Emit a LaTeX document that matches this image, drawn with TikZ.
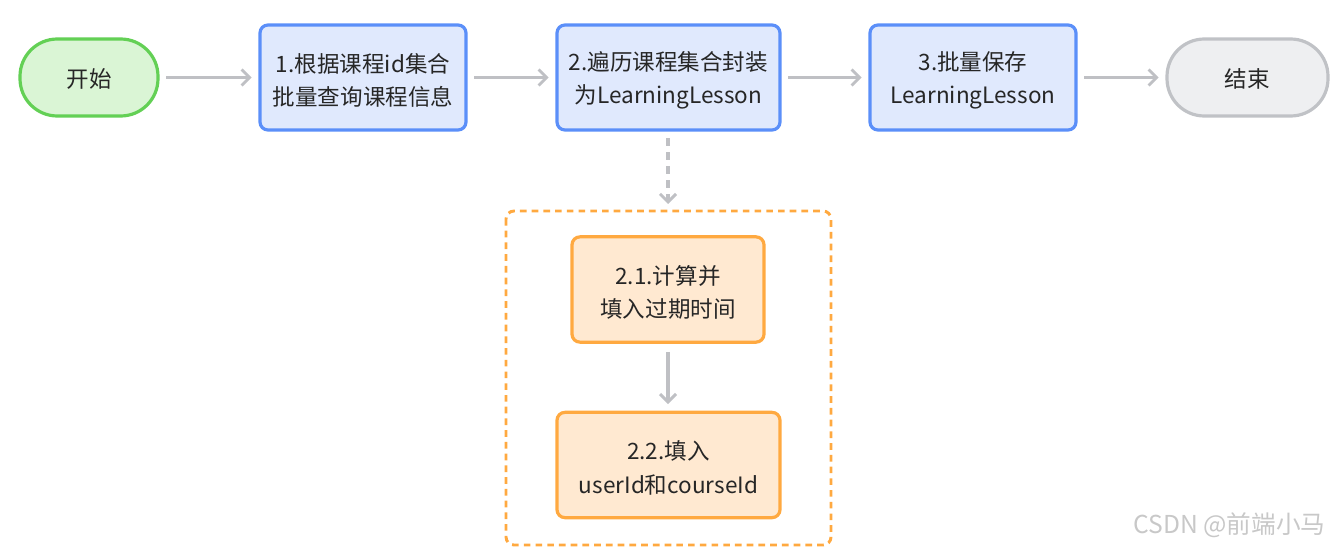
\documentclass[tikz,border=0pt]{standalone}
\usepackage{fontspec}
\setmainfont{Noto Sans CJK SC}
\usetikzlibrary{arrows.meta}

\definecolor{startline}{RGB}{99,208,85}
\definecolor{startfill}{RGB}{218,245,213}
\definecolor{stepline}{RGB}{91,143,249}
\definecolor{stepfill}{RGB}{224,233,253}
\definecolor{subline}{RGB}{255,169,64}
\definecolor{subfill}{RGB}{255,233,209}
\definecolor{endline}{RGB}{192,194,198}
\definecolor{endfill}{RGB}{238,239,241}
\definecolor{flowline}{RGB}{191,192,196}
\definecolor{marktext}{RGB}{200,200,200}

% lower one line of box text a little, keeping its size
\newcommand{\lowline}[2][2.25pt]{\raisebox{-#1}[\height][\depth]{#2}}

\tikzset{every picture/.style={line width=0.75pt}}
\tikzset{
	boxtext/.style={font=\fontsize{16.9}{25}\selectfont, text=black!85, align=center, inner sep=0pt},
	terminal/.style={boxtext, line width=2.4pt, rounded corners=28pt, minimum height=57.75pt},
	stepbox/.style={boxtext, draw=stepline, fill=stepfill, line width=2.4pt, rounded corners=6pt, minimum height=78.75pt},
	subbox/.style={boxtext, draw=subline, fill=subfill, line width=2.4pt, rounded corners=6pt, minimum height=79pt},
	flow/.style={draw=flowline, line width=2.4pt, -{Straight Barb[length=6pt,width=12pt,line width=2.2pt]}},
	dashflow/.style={flow, dash pattern=on 6pt off 4.5pt}
}

\begin{document}
\begin{tikzpicture}[x=0.75pt,y=0.75pt,yscale=-1,xscale=1]
	\useasboundingbox (0,0) rectangle (1332,549);

	%Shape: Dashed group
	\draw [draw=subline, line width=2.2pt, dash pattern=on 5pt off 3.8pt, rounded corners=6pt] (506,211) rectangle (831,545);

	% Main row
	\node [terminal, draw=startline, fill=startfill, minimum width=103.5pt] (start) at (89,77.5) {\lowline[1pt]{开始}};
	\node [stepbox, minimum width=154.5pt] (query) at (363,77.5) {\lowline{1.根据课程id集合}\\\lowline{批量查询课程信息}};
	\node [stepbox, minimum width=167.25pt] (wrap) at (668.5,77.5) {\lowline{2.遍历课程集合封装}\\\lowline{为LearningLesson}};
	\node [stepbox, minimum width=154.5pt] (save) at (973,77.5) {\lowline{3.批量保存}\\\lowline{LearningLesson}};
	\node [terminal, draw=endline, fill=endfill, minimum width=120.75pt] (finish) at (1247.5,77.5) {\lowline[1pt]{结束}};

	% Sub steps
	\node [subbox, minimum width=144pt] (expire) at (668,289.5) {\lowline{2.1.计算并}\\\lowline{填入过期时间}};
	\node [subbox, minimum width=167.25pt] (ids) at (668.5,465) {\lowline{2.2.填入}\\\lowline{userId和courseId}};
	\coordinate (grouptop) at (668,204);

	% Connectors
	\draw [flow, shorten <=5pt, shorten >=5pt] (start) -- (query);
	\draw [flow, shorten <=5pt, shorten >=5pt] (query) -- (wrap);
	\draw [flow, shorten <=5pt, shorten >=5pt] (wrap) -- (save);
	\draw [flow, shorten <=5pt, shorten >=5pt] (save) -- (finish);
	\draw [dashflow, shorten <=5pt] (wrap.south -| grouptop) -- (grouptop);
	\draw [flow, shorten <=6pt, shorten >=5pt] (expire) -- (expire |- ids.north);

	% Text Node
	\node [font=\fontsize{18.5}{22}\selectfont, text=marktext, anchor=east, inner sep=0pt] (mark) at (1326,525) {CSDN @前端小马};
\end{tikzpicture}
\end{document}
